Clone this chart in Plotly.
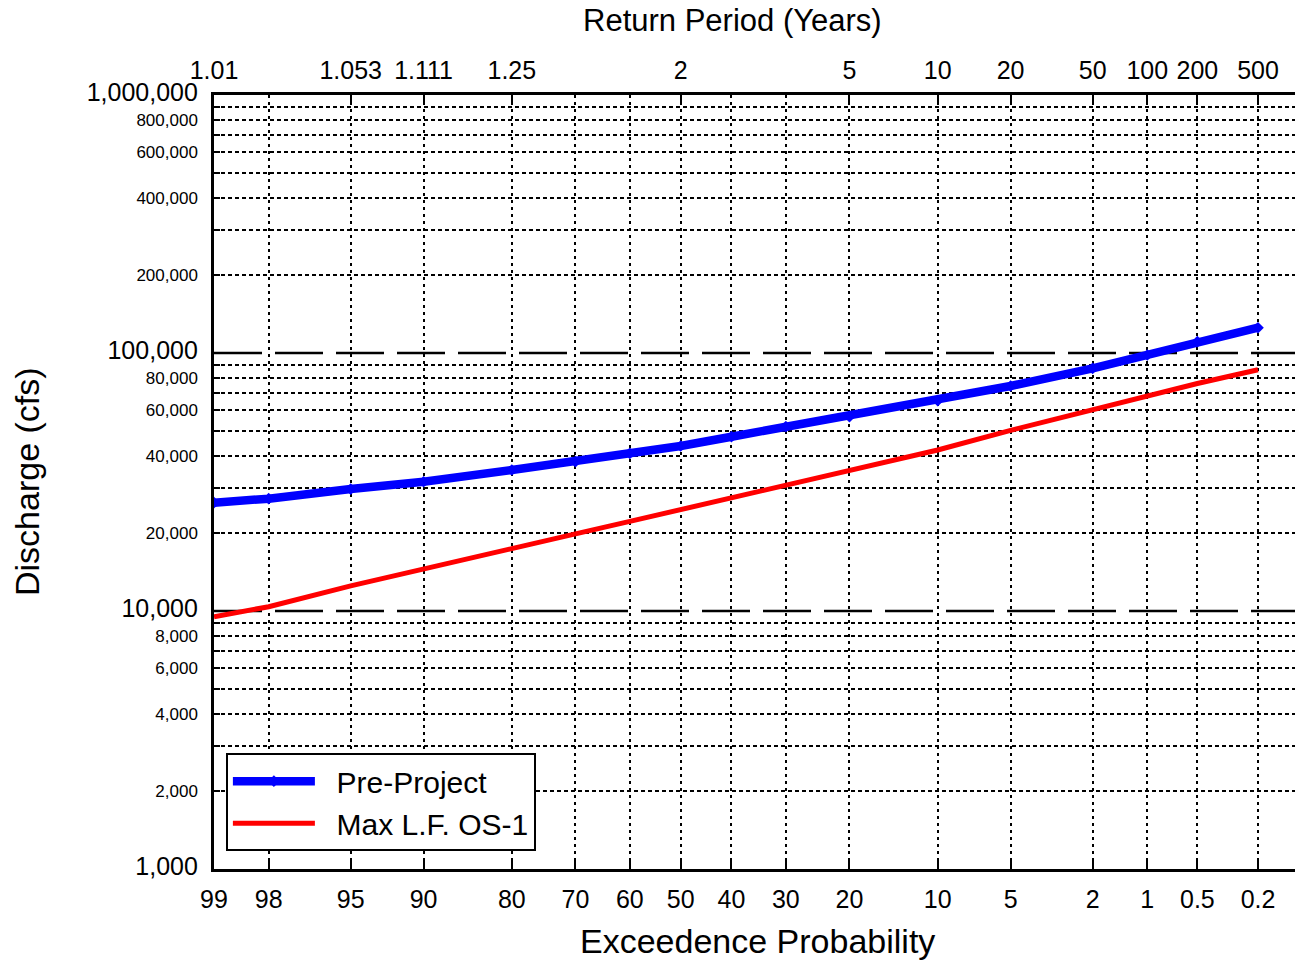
import plotly.graph_objects as go
from statistics import NormalDist

# ---- data ----
exceed_pct = [99, 98, 95, 90, 80, 70, 60, 50, 40, 30, 20, 10, 5, 2, 1, 0.5, 0.2]
pre_project = [26300, 27250, 29700, 31700, 35200, 37900, 40860, 43610, 47380, 51810,
               56640, 65330, 74490, 87230, 98230, 110600, 125300]
max_lf_os1 = [9500, 10390, 12520, 14500, 17340, 19900, 22250, 24720, 27420, 30650,
              34880, 42070, 50160, 60340, 68270, 76180, 86150]
bottom_ticks = [99, 98, 95, 90, 80, 70, 60, 50, 40, 30, 20, 10, 5, 2, 1, 0.5, 0.2]
bottom_labels = ["99", "98", "95", "90", "80", "70", "60", "50", "40", "30", "20",
                 "10", "5", "2", "1", "0.5", "0.2"]
return_period_pct = [99, 95, 90, 80, 50, 20, 10, 5, 2, 1, 0.5, 0.2]
return_period_labels = ["1.01", "1.053", "1.111", "1.25", "2", "5", "10", "20", "50",
                        "100", "200", "500"]
y_decades = [1000, 10000, 100000, 1000000]
y_labels_big = {1000: "1,000", 10000: "10,000", 100000: "100,000", 1000000: "1,000,000"}
y_labels_small = {2000: "2,000", 4000: "4,000", 6000: "6,000", 8000: "8,000",
                  20000: "20,000", 40000: "40,000", 60000: "60,000", 80000: "80,000",
                  200000: "200,000", 400000: "400,000", 600000: "600,000", 800000: "800,000"}

nd = NormalDist()
def z(p):
    return nd.inv_cdf(1 - p / 100.0)

px_per_z = 1044 / (z(0.2) - z(99))
xr = [z(99), z(99) + 1081 / px_per_z]

yvals, ytext, yminor = [], [], []
for dec in [1000, 10000, 100000]:
    for m in range(1, 10):
        v = dec * m
        yvals.append(v)
        if m != 1:
            yminor.append(v)
        if v in y_labels_big:
            ytext.append('<span style="font-size:25px">%s</span>' % y_labels_big[v])
        elif v in y_labels_small:
            ytext.append(y_labels_small[v])
        else:
            ytext.append("")
yvals.append(1000000)
ytext.append('<span style="font-size:25px">1,000,000</span>')

FONT = "Liberation Sans, Arial, sans-serif"
NB = "\u00a0\u00a0"

fig = go.Figure()
fig.add_trace(go.Scatter(
    x=[z(p) for p in exceed_pct], y=pre_project, name=NB + "Pre-Project",
    mode="lines+markers", line=dict(color="#0000ff", width=8.5),
    marker=dict(symbol="diamond", size=9, color="#0000ff")))
fig.add_trace(go.Scatter(
    x=[z(p) for p in exceed_pct], y=max_lf_os1, name=NB + "Max L.F. OS-1",
    mode="lines", line=dict(color="#ff0000", width=5)))
fig.add_trace(go.Scatter(x=[z(50)], y=[None], xaxis="x2", showlegend=False,
                         hoverinfo="skip", mode="markers"))

for v in [10000, 100000]:
    fig.add_shape(type="line", xref="paper", x0=0, x1=1, yref="y", y0=v, y1=v,
                  line=dict(color="black", width=2.5, dash="48px,13px"), layer="between")

fig.update_layout(
    width=1295, height=960,
    margin=dict(l=214, r=0, t=95, b=91),
    paper_bgcolor="white", plot_bgcolor="white",
    font=dict(family=FONT, color="black"),
    xaxis=dict(range=xr, tickmode="array", tickvals=[z(p) for p in bottom_ticks],
               ticktext=bottom_labels, ticks="inside", ticklen=10, tickwidth=2,
               tickcolor="black", showline=True, linecolor="black", linewidth=2.5,
               mirror=False, showgrid=True, gridcolor="black", gridwidth=2,
               griddash="3px,4px", zeroline=False, tickfont=dict(size=25),
               ticklabelstandoff=6),
    xaxis2=dict(range=xr, overlaying="x", side="top", tickmode="array",
                tickvals=[z(p) for p in return_period_pct], ticktext=return_period_labels,
                ticks="inside", ticklen=9, tickwidth=2, tickcolor="black",
                showline=True, linecolor="black", linewidth=2.5, showgrid=False,
                zeroline=False, tickfont=dict(size=25), ticklabelstandoff=3),
    yaxis=dict(type="log", range=[3, 6], tickmode="array", tickvals=yvals, ticktext=ytext,
               ticks="inside", ticklen=6, tickwidth=2, tickcolor="black",
               showline=True, linecolor="black", linewidth=2.5, showgrid=False,
               zeroline=False, tickfont=dict(size=17), ticklabelstandoff=10,
               minor=dict(tickmode="array", tickvals=yminor, ticks="", showgrid=True,
                          gridcolor="black", gridwidth=2, griddash="4px,3px")),
    legend=dict(x=0.011, y=0.023, xanchor="left", yanchor="bottom",
                bgcolor="white", bordercolor="black", borderwidth=2,
                font=dict(size=30, family=FONT), itemwidth=82),
    showlegend=True,
    annotations=[
        dict(text="Return Period (Years)", xref="paper", yref="paper", x=(732 - 214) / 1081,
             y=(869 - 20) / 774, showarrow=False, font=dict(size=31), xanchor="center",
             yanchor="middle"),
        dict(text="Exceedence Probability", xref="paper", yref="paper", x=(757 - 214) / 1081,
             y=(869 - 941) / 774, showarrow=False, font=dict(size=34), xanchor="center",
             yanchor="middle"),
        dict(text="Discharge (cfs)", xref="paper", yref="paper", x=(27 - 214) / 1081,
             y=(869 - 482) / 774, showarrow=False, font=dict(size=34), textangle=-90,
             xanchor="center", yanchor="middle"),
    ],
)

fig.write_html("out.html")
